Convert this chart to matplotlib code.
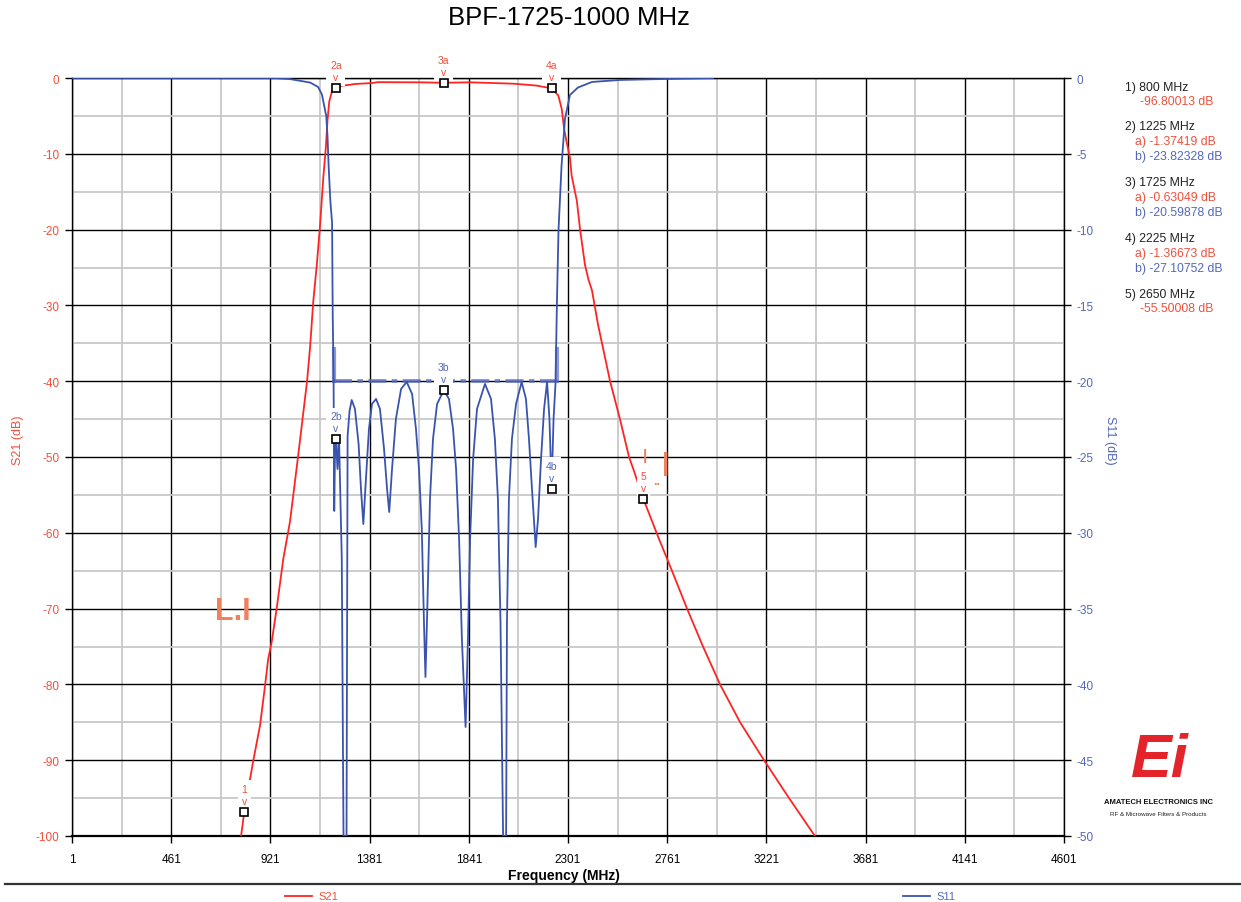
import matplotlib
matplotlib.use('Agg')
import matplotlib.pyplot as plt
from matplotlib.lines import Line2D
from matplotlib.ticker import MultipleLocator, FixedLocator

plt.rcParams['font.family'] = ['Liberation Sans', 'DejaVu Sans']

# ── data ──────────────────────────────────────────────
TITLE = "BPF-1725-1000 MHz"

S21_FREQ = [785, 800, 842, 873, 896, 911, 927, 950, 981, 1012, 1049, 1091,
            1105, 1120, 1136, 1151, 1167, 1178, 1186, 1194, 1207, 1225, 1253,
            1290, 1309, 1394, 1418, 1615, 1725, 1847, 2048, 2156, 2225, 2256,
            2272, 2283, 2295, 2310, 2318, 2342, 2357, 2380, 2396, 2412, 2440,
            2496, 2542, 2584, 2604, 2650, 2720, 2783, 2853, 2927, 3006, 3099,
            3210, 3326, 3446]
S21_DB = [-100, -96.80, -90.0, -85.4, -80.2, -76.6, -74.4, -70.0, -63.4, -58.5,
          -50.0, -40.0, -35.5, -29.4, -24.7, -19.5, -12.9, -9.2, -5.5, -3.1,
          -1.7, -1.37, -1.0, -0.9, -0.8, -0.66, -0.55, -0.57, -0.63, -0.57,
          -0.75, -1.0, -1.37, -2.3, -4.1, -6.7, -8.5, -10.5, -12.9, -16.2,
          -20.0, -24.7, -26.6, -28.0, -32.5, -40.0, -45.0, -50.0, -51.6, -55.5,
          -60.6, -65.0, -70.0, -75.0, -80.0, -85.0, -90.0, -95.0, -100]

S11_FREQ = [1, 942, 1012, 1105, 1142, 1160, 1180, 1186, 1191, 1199, 1207, 1210,
            1214, 1217, 1221, 1225, 1232, 1239, 1252, 1260, 1274, 1279, 1288,
            1298, 1313, 1330, 1341, 1352, 1364, 1378, 1392, 1411, 1429, 1448,
            1462, 1472, 1485, 1503, 1527, 1553, 1578, 1596, 1610, 1623, 1633,
            1640, 1647, 1661, 1675, 1694, 1725, 1749, 1768, 1782, 1796, 1809,
            1826, 1837, 1847, 1861, 1879, 1916, 1944, 1962, 1976, 1988, 2000,
            2014, 2018, 2027, 2041, 2060, 2086, 2106, 2120, 2134, 2151, 2162,
            2176, 2190, 2204, 2215, 2225, 2234, 2243, 2250, 2257, 2271, 2287,
            2310, 2347, 2412, 2542, 2728, 2973]
S11_DB = [0, 0, -0.07, -0.30, -0.59, -1.09, -2.51, -3.89, -5.80, -8.11, -9.56,
          -15.63, -19.85, -28.56, -24.14, -23.82, -25.79, -23.61, -31.73, -50,
          -50, -23.61, -21.97, -21.24, -21.83, -24.14, -27.11, -29.42, -26.45,
          -23.15, -21.50, -21.17, -21.83, -24.47, -27.11, -28.63, -25.79,
          -22.49, -20.51, -20.05, -20.84, -23.15, -25.79, -29.75, -35.88,
          -39.51, -35.88, -27.77, -23.81, -21.50, -20.60, -21.17, -23.15,
          -25.79, -30.41, -37.01, -42.81, -37.01, -30.41, -25.13, -21.83,
          -20.18, -21.17, -23.81, -27.77, -35.88, -50, -50, -35.88, -27.77,
          -23.81, -21.50, -20.05, -21.17, -23.81, -27.11, -30.94, -29.09,
          -25.13, -21.83, -20.05, -22.49, -27.11, -22.49, -20.18, -14.58,
          -10.03, -5.80, -2.70, -1.12, -0.63, -0.26, -0.13, -0.07, 0]

MARKER_ID = ["1", "2", "3", "4", "5"]
MARKER_FREQ = [800, 1225, 1725, 2225, 2650]
MARKER_S21 = [-96.80013, -1.37419, -0.63049, -1.36673, -55.50008]
MARKER_S11 = [None, -23.82328, -20.59878, -27.10752, None]

MASK_FREQ = [1214, 2248]
MASK_DB = -20
MASK_TOP = -17.9

X_TICKS = [1, 461, 921, 1381, 1841, 2301, 2761, 3221, 3681, 4141, 4601]
X_MINOR = [231, 691, 1151, 1611, 2071, 2531, 2991, 3451, 3911, 4371]

# ── style ─────────────────────────────────────────────
RED = '#ff2424'
RED_TXT = '#f0503c'
ODD = '#f0805e'
BLUE = '#3a54ae'
BLUE_TXT = '#5368b8'
W, H = 1241, 903


def fx(x):
    return x / W


def fy(y):
    return 1 - y / H


fig = plt.figure(figsize=(12.41, 9.03), dpi=100)
ax = fig.add_axes([fx(72), fy(837), fx(1064) - fx(72), fy(79) - fy(837)])
ax2 = ax.twinx()

ax.set_xlim(1, 4601)
ax.set_ylim(-100, 0)
ax2.set_ylim(-50, 0)

# grid
ax.xaxis.set_major_locator(FixedLocator(X_TICKS))
ax.xaxis.set_minor_locator(FixedLocator(X_MINOR))
ax.yaxis.set_major_locator(MultipleLocator(10))
ax.yaxis.set_minor_locator(MultipleLocator(5))
ax.grid(which='minor', color='#c8c8c8', lw=1.3, zorder=0)
ax.grid(which='major', color='black', lw=1.0, zorder=0.5)
ax2.yaxis.set_major_locator(MultipleLocator(5))

ax.tick_params(axis='x', which='major', length=5, width=1, pad=7, labelsize=8.5,
               direction='out')
ax.tick_params(axis='y', which='major', length=5, width=1, pad=4, labelsize=8.5,
               labelcolor=RED_TXT, direction='out')
ax.tick_params(which='minor', length=0)
ax2.tick_params(axis='y', length=5, width=1, pad=4, labelsize=8.5,
                labelcolor=BLUE_TXT, direction='out')
for s in ax.spines.values():
    s.set_color('black')
    s.set_linewidth(1.0)
ax.spines['bottom'].set_linewidth(1.6)
for s in ax2.spines.values():
    s.set_visible(False)

ax.set_yticklabels([f"{int(v)}" for v in ax.get_yticks()])
ax2.set_yticklabels([f"{int(v)}" for v in ax2.get_yticks()])

# traces
ax.plot(S21_FREQ, S21_DB, color=RED, lw=1.3, zorder=3)
ax2.plot(S11_FREQ, S11_DB, color=BLUE, lw=1.3, zorder=3)

# S11 limit mask
ax2.plot(MASK_FREQ, [MASK_DB, MASK_DB], color='#5a6cc0', lw=2.6, alpha=0.85,
         ls=(0, (5, 1.5, 1.5, 1.5)), zorder=2)
for f in MASK_FREQ:
    ax2.plot([f, f], [MASK_TOP, MASK_DB], color='#5a6cc0', lw=3, alpha=0.7, zorder=2)


def put_marker(a, f, v, label, color):
    a.plot([f], [v], marker='s', ms=5.5, mfc='white', mec='black', mew=1.2,
           zorder=7, clip_on=False)
    a.annotate(f"{label}\nv", (f, v), xytext=(0, 6), textcoords='offset pixels',
               ha='center', va='bottom', fontsize=7.5, color=color,
               linespacing=1.25, zorder=6,
               bbox=dict(boxstyle='square,pad=0.35', fc='white', ec='none'))


for mid, f, v21, v11 in zip(MARKER_ID, MARKER_FREQ, MARKER_S21, MARKER_S11):
    if v11 is None:
        put_marker(ax, f, v21, mid, RED_TXT)
    else:
        put_marker(ax, f, v21, mid + "a", RED_TXT)
        put_marker(ax2, f, v11, mid + "b", BLUE_TXT)

# stray marker artifacts
ax.text(748, -70.3, "L.I", fontsize=22, fontweight='bold', color=ODD,
        ha='center', va='center', zorder=4)
ax.text(2658, -49.8, "|", fontsize=11, fontweight='bold', color=ODD,
        ha='center', va='center', zorder=8)
ax.text(2712, -53.2, "..", fontsize=9, fontweight='bold', color=ODD,
        ha='center', va='center', zorder=8)
ax.text(2752, -50.8, "|", fontsize=19, fontweight='bold', color=ODD,
        ha='center', va='center', zorder=8)

# titles and axis labels
fig.text(fx(569), fy(18), TITLE, ha='center', va='center', fontsize=18.5)
fig.text(fx(564), fy(876), "Frequency (MHz)", ha='center', va='center',
         fontsize=10, fontweight='bold')
fig.text(fx(18), fy(440), "S21 (dB)", ha='center', va='center', rotation=90,
         fontsize=9, color=RED_TXT)
fig.text(fx(1110), fy(440), "S11 (dB)", ha='center', va='center', rotation=270,
         fontsize=9, color=BLUE_TXT)

# marker readouts
y = 88
for mid, f, v21, v11 in zip(MARKER_ID, MARKER_FREQ, MARKER_S21, MARKER_S11):
    fig.text(fx(1125), fy(y), f"{mid}) {f} MHz", fontsize=8.8, va='center',
             color='#222222')
    if v11 is None:
        fig.text(fx(1140), fy(y + 14), f"{v21:.5f} dB", fontsize=8.8,
                 va='center', color=RED_TXT)
        y += 39
    else:
        fig.text(fx(1135), fy(y + 15), f"a) {v21:.5f} dB", fontsize=8.8,
                 va='center', color=RED_TXT)
        fig.text(fx(1135), fy(y + 30), f"b) {v11:.5f} dB", fontsize=8.8,
                 va='center', color=BLUE_TXT)
        y += 56

# bottom legend
fig.add_artist(Line2D([fx(5), fx(1241)], [fy(885), fy(885)], color='#333333', lw=1.6))
fig.add_artist(Line2D([fx(285), fx(312)], [fy(897), fy(897)], color=RED, lw=1.3))
fig.text(fx(318), fy(897), "S21", fontsize=8, color=RED_TXT, va='center')
fig.add_artist(Line2D([fx(903), fx(930)], [fy(897), fy(897)], color=BLUE, lw=1.3))
fig.text(fx(936), fy(897), "S11", fontsize=8, color=BLUE_TXT, va='center')

# logo
fig.text(fx(1160), fy(762), "Ei", fontsize=44, fontweight='bold', style='italic',
         color='#e3242b', ha='center', va='center')
fig.text(fx(1158), fy(803), "AMATECH ELECTRONICS INC", fontsize=5.5,
         fontweight='bold', ha='center', va='center', color='#111111')
fig.text(fx(1158), fy(815), "RF & Microwave Filters & Products", fontsize=4.5,
         ha='center', va='center', color='#222222')

fig.savefig('out.png', dpi=100, facecolor='white')
